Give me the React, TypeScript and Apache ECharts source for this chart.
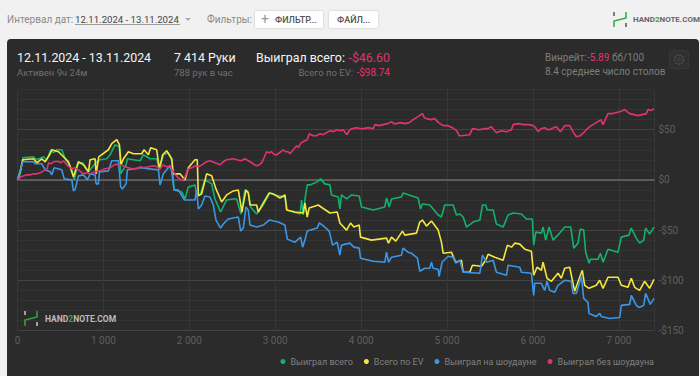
import React, { useEffect, useRef } from "react";
import * as echarts from "echarts";

const FONT = "Roboto";
const seriesNames = ["Выиграл всего", "Всего по EV", "Выиграл на шоудауне", "Выиграл без шоудауна"];
const seriesColors = ["#12b26c", "#f4e73c", "#3a97e6", "#e1336f"];

const wonTotal = [[0,0],[31,6],[62,22],[186,23],[225,20],[302,23],[341,20],[388,30],[419,27],[457,30],[516,30],[554,21],[632,11],[659,0],[709,17],[760,17],[826,8],[922,18],[961,20],[1039,21],[1078,25],[1136,35],[1186,33],[1201,6],[1264,15],[1279,21],[1349,20],[1426,19],[1465,25],[1543,21],[1620,21],[1651,10],[1698,25],[1756,27],[1795,20],[1822,-10],[1911,-12],[1950,-19],[1988,-7],[2066,-5],[2085,-14],[2124,-15],[2182,0],[2260,-4],[2298,-19],[2364,-32],[2434,-20],[2512,-19],[2551,-19],[2601,-34],[2647,-10],[2686,-12],[2713,-27],[2783,-34],[2861,-25],[2938,-13],[2996,-15],[3113,-17],[3140,-30],[3248,-33],[3290,-34],[3306,-20],[3326,-35],[3345,-20],[3372,-5],[3403,-5],[3488,-2],[3527,1],[3578,-4],[3636,-5],[3655,-15],[3733,-17],[3752,-29],[3771,-15],[3830,-19],[3888,-15],[3977,-16],[4004,-27],[4140,-30],[4275,-27],[4295,-18],[4326,-27],[4353,-19],[4469,-17],[4488,-13],[4663,-18],[4690,-29],[4713,-24],[4799,-25],[4896,-35],[4934,-37],[4973,-25],[5070,-25],[5109,-35],[5148,-34],[5187,-37],[5226,-47],[5303,-42],[5381,-40],[5412,-25],[5450,-25],[5466,-30],[5536,-30],[5574,-44],[5652,-47],[5710,-35],[5768,-33],[5865,-34],[5923,-39],[5989,-39],[5993,-40],[6008,-65],[6032,-52],[6098,-53],[6117,-47],[6148,-60],[6187,-47],[6233,-60],[6311,-53],[6369,-47],[6439,-47],[6474,-68],[6524,-63],[6551,-49],[6590,-50],[6613,-72],[6652,-83],[6667,-79],[6757,-79],[6784,-73],[6815,-82],[6873,-69],[6989,-72],[7028,-57],[7117,-55],[7144,-48],[7202,-58],[7241,-63],[7288,-60],[7311,-48],[7357,-54],[7408,-47]];

const totalEv = [[0,0],[31,8],[62,20],[186,21],[225,17],[283,21],[322,18],[380,26],[399,30],[477,28],[535,23],[593,18],[651,3],[709,18],[767,15],[826,8],[845,20],[903,21],[915,6],[946,23],[1058,30],[1097,36],[1155,40],[1186,35],[1205,15],[1233,21],[1291,28],[1349,26],[1446,26],[1473,30],[1523,25],[1550,32],[1620,30],[1651,11],[1690,25],[1736,29],[1795,21],[1814,6],[1891,6],[1950,0],[1988,12],[2066,20],[2092,20],[2105,-16],[2143,-14],[2201,6],[2260,4],[2310,-9],[2376,-22],[2434,-15],[2512,-11],[2570,-10],[2589,-20],[2612,-32],[2659,-10],[2686,-13],[2706,-25],[2783,-25],[2802,-32],[2861,-23],[2930,-13],[2977,-14],[3054,-18],[3113,-15],[3132,-30],[3229,-32],[3326,-33],[3345,-23],[3372,-37],[3395,-28],[3500,-25],[3550,-28],[3636,-33],[3721,-32],[3752,-43],[3830,-50],[3876,-43],[3915,-47],[3977,-45],[3992,-57],[4120,-60],[4295,-58],[4318,-63],[4353,-57],[4403,-61],[4481,-51],[4508,-55],[4644,-53],[4682,-42],[4713,-40],[4760,-46],[4818,-41],[4896,-50],[4934,-62],[4954,-73],[5050,-72],[5101,-82],[5167,-80],[5187,-92],[5264,-92],[5295,-85],[5400,-86],[5450,-80],[5477,-74],[5555,-77],[5652,-80],[5702,-65],[5749,-67],[5788,-63],[5846,-64],[5904,-69],[5981,-71],[6008,-95],[6047,-87],[6098,-90],[6117,-82],[6163,-98],[6214,-101],[6291,-93],[6330,-98],[6369,-88],[6427,-87],[6466,-103],[6485,-111],[6543,-97],[6574,-90],[6601,-105],[6652,-108],[6737,-105],[6776,-100],[6815,-108],[6873,-97],[6989,-97],[7028,-105],[7105,-107],[7144,-98],[7183,-107],[7241,-110],[7299,-101],[7357,-108],[7408,-99]];

const wonShowdown = [[0,0],[31,9],[62,18],[186,18],[205,16],[283,16],[322,10],[380,8],[399,5],[426,12],[516,10],[543,1],[632,0],[651,-11],[670,-10],[709,4],[767,5],[814,0],[845,6],[903,5],[915,-4],[942,-4],[954,8],[1058,9],[1097,19],[1174,19],[1201,-7],[1221,-9],[1264,-4],[1279,10],[1426,12],[1640,10],[1659,-5],[1698,6],[1775,14],[1795,8],[1822,-10],[1872,-10],[1941,-20],[2066,-20],[2085,-10],[2105,-29],[2143,-25],[2182,-16],[2240,-17],[2279,-25],[2310,-40],[2364,-48],[2395,-44],[2453,-39],[2570,-37],[2597,-51],[2628,-48],[2659,-27],[2686,-30],[2706,-45],[2783,-47],[2861,-45],[2930,-40],[3035,-42],[3113,-45],[3140,-59],[3229,-62],[3295,-57],[3318,-67],[3345,-60],[3372,-51],[3488,-48],[3512,-43],[3550,-45],[3628,-51],[3667,-65],[3721,-62],[3752,-75],[3771,-65],[3868,-63],[3915,-67],[3977,-68],[3992,-78],[4140,-81],[4275,-82],[4295,-72],[4318,-82],[4353,-77],[4469,-75],[4488,-68],[4545,-72],[4585,-73],[4655,-78],[4682,-91],[4740,-88],[4799,-88],[4818,-82],[4837,-88],[4896,-89],[4907,-96],[4942,-82],[5012,-76],[5070,-77],[5101,-83],[5148,-80],[5187,-92],[5381,-93],[5412,-75],[5458,-82],[5536,-80],[5574,-92],[5691,-95],[5710,-85],[5846,-87],[5865,-92],[5981,-93],[6008,-115],[6020,-103],[6098,-103],[6136,-110],[6163,-101],[6194,-110],[6252,-112],[6291,-105],[6369,-100],[6446,-101],[6466,-113],[6505,-113],[6563,-96],[6590,-118],[6640,-122],[6652,-133],[6737,-136],[6776,-133],[6795,-136],[6892,-138],[7009,-137],[7028,-125],[7125,-124],[7144,-115],[7202,-125],[7233,-127],[7288,-125],[7311,-113],[7365,-124],[7408,-118]];

const wonNoShowdown = [[0,0],[39,3],[75,4],[109,5],[150,5],[186,6],[225,6],[264,7],[322,10],[345,11],[360,17],[390,16],[419,18],[477,18.5],[500,17],[535,19],[574,15],[600,13],[632,11],[670,12],[709,10],[767,6],[805,7],[845,6],[900,8],[961,9],[1020,11],[1078,12],[1110,14],[1147,16],[1180,14],[1213,15],[1250,13],[1291,12],[1340,11],[1388,11],[1430,13],[1465,12],[1525,13],[1581,14],[1625,13],[1659,11],[1698,15],[1735,13],[1775,14],[1814,8],[1840,5],[1872,2],[1922,-1],[1950,3],[1988,11],[2030,12],[2066,14],[2110,13],[2163,16],[2200,18],[2240,19],[2300,17],[2357,15],[2395,18],[2434,20],[2512,21],[2551,20],[2600,19],[2647,21],[2706,18],[2783,14],[2815,15],[2841,17],[2870,22],[2899,28],[2930,27],[2957,28],[2990,25],[3016,25],[3050,27],[3093,30],[3120,28],[3150,28],[3171,26],[3210,30],[3248,34],[3270,32],[3300,37],[3326,38],[3372,40],[3396,46],[3440,44],[3481,44],[3520,46],[3560,45],[3597,47],[3640,49],[3680,48],[3713,50],[3760,49],[3791,50],[3815,47],[3837,45],[3860,49],[3888,51],[3950,52],[4000,51],[4024,51],[4090,52],[4140,51],[4159,55],[4210,54],[4256,55],[4310,56],[4353,58],[4380,56],[4411,56],[4460,57],[4508,56],[4560,57],[4605,60],[4660,63],[4713,66],[4735,62],[4760,61],[4810,60],[4857,61],[4900,57],[4954,54],[5010,54],[5062,52],[5110,49],[5140,44],[5167,44],[5264,45],[5295,51],[5370,50],[5430,51],[5477,51],[5516,53],[5545,50],[5574,47],[5633,49],[5690,48],[5749,50],[5768,55],[5830,56],[5890,55],[5950,55],[6001,54],[6030,52],[6059,48],[6090,51],[6136,52],[6170,50],[6194,50],[6240,52],[6272,53],[6300,50],[6319,48],[6369,54],[6427,54],[6465,48],[6504,43],[6551,44],[6590,47],[6621,50],[6660,53],[6698,55],[6757,58],[6790,60],[6815,55],[6873,66],[6930,66],[6970,67],[7020,68],[7067,70],[7125,66],[7175,65],[7222,64],[7270,65],[7319,66],[7338,70],[7375,69],[7408,71]];

const seriesData = [wonTotal, totalEv, wonShowdown, wonNoShowdown];

const txt = (x: number, y: number, text: string, size: number, fill: string, extra: any = {}) => ({
  type: "text", x, y, z: 5,
  style: { text, fontSize: size, fill, fontFamily: FONT, verticalAlign: "middle", ...extra },
});

const logo = (x: number, y: number, bars: string, size: number, textColor: string, textX: number) => [
  { type: "line", z: 5, shape: { x1: x + 1, y1: y, x2: x + 1, y2: y + 4 }, style: { stroke: bars, lineWidth: 1.5 } },
  { type: "line", z: 5, shape: { x1: x + 13, y1: y + 11, x2: x + 13, y2: y + 15 }, style: { stroke: bars, lineWidth: 1.5 } },
  { type: "polyline", z: 5, shape: { points: [[x + 1, y + 15], [x + 1, y + 9], [x + 13, y + 6], [x + 13, y]] }, style: { stroke: "#2fa83f", lineWidth: 1.5, fill: "none" } },
  {
    type: "text", z: 5, x: textX, y: y + 7.5,
    style: {
      text: "{a|HAND}{b|2}{a|NOTE.COM}", verticalAlign: "middle",
      rich: {
        a: { fontSize: size, fontWeight: "bold", fill: textColor, fontFamily: FONT },
        b: { fontSize: size, fontWeight: "bold", fill: "#2fa83f", fontFamily: FONT },
      },
    },
  },
];

export default function App() {
  const ref = useRef<HTMLDivElement>(null);
  useEffect(() => {
    document.body.style.margin = "0";
    const chart = echarts.init(ref.current!, null, { renderer: "svg" });
    const pink = "#e1336f";
    chart.setOption({
      animation: false,
      backgroundColor: "#f1f1f1",
      textStyle: { fontFamily: FONT },
      grid: { left: 17.5, right: 45.5, top: 89.5, bottom: 45.5, containLabel: false },
      xAxis: {
        type: "value", min: 0, max: 7414, interval: 1000,
        axisLine: { show: false }, axisTick: { show: false },
        splitLine: { show: true, lineStyle: { color: "#373737", width: 1 } },
        axisLabel: {
          color: "#5f5f5f", fontSize: 10, margin: 5, hideOverlap: false,
          formatter: (v: number) => (v % 1000 === 0 ? (v >= 1000 ? `${Math.floor(v / 1000)} 000` : `${v}`) : ""),
        },
      },
      yAxis: {
        type: "value", min: -150, max: 90, interval: 10, position: "right",
        axisLine: { show: false }, axisTick: { show: false },
        splitLine: { show: true, lineStyle: { color: ["#444444", "#333333", "#333333", "#333333", "#333333"], width: 1 } },
        axisLabel: {
          color: "#5f5f5f", fontSize: 10, margin: 4,
          formatter: (v: number) => (v % 50 === 0 ? (v < 0 ? `-$${-v}` : `$${v}`) : ""),
        },
      },
      legend: {
        show: true, right: 41, top: 352, icon: "circle", itemWidth: 5, itemHeight: 5, itemGap: 11,
        textStyle: { color: "#808080", fontSize: 9, fontFamily: FONT },
        data: seriesNames,
      },
      series: seriesNames.map((name, i) => ({
        name, type: "line", data: seriesData[i], showSymbol: false, symbol: "none",
        lineStyle: { color: seriesColors[i], width: 1.6 }, itemStyle: { color: seriesColors[i] },
        z: 3 + i,
        markLine: i === 0 ? {
          silent: true, symbol: "none", label: { show: false }, z: 2,
          lineStyle: { color: "#686868", width: 1.6, type: "solid" }, data: [{ yAxis: 0 }],
        } : undefined,
      })),
      graphic: {
        elements: [
          { type: "rect", z: -10, shape: { x: 7, y: 39, width: 692, height: 345, r: 4 }, style: { fill: "#2b2b2b" } },
          txt(7, 19, "Интервал дат:", 10, "#8a8a8a"),
          txt(75, 19, "12.11.2024 - 13.11.2024", 9.6, "#444444"),
          { type: "line", z: 5, shape: { x1: 75, y1: 24.5, x2: 180, y2: 24.5 }, style: { stroke: "#9a9a9a", lineWidth: 1 } },
          { type: "polygon", z: 5, shape: { points: [[185, 18], [191, 18], [188, 21]] }, style: { fill: "#aaaaaa" } },
          txt(207, 19, "Фильтры:", 10, "#8a8a8a"),
          { type: "rect", z: 4, shape: { x: 255, y: 11, width: 68, height: 17, r: 2 }, style: { fill: "#ffffff", shadowBlur: 2, shadowColor: "rgba(0,0,0,0.2)" } },
          txt(261, 19, "+", 14, "#999999"),
          txt(275, 19.5, "ФИЛЬТР...", 9, "#555555", { fontWeight: 500 }),
          { type: "rect", z: 4, shape: { x: 329, y: 11, width: 49, height: 17, r: 2 }, style: { fill: "#ffffff", shadowBlur: 2, shadowColor: "rgba(0,0,0,0.2)" } },
          txt(337, 19.5, "ФАЙЛ...", 9, "#555555", { fontWeight: 500 }),
          ...logo(613, 12, "#555555", 8, "#666666", 633),

          txt(17, 57, "12.11.2024 - 13.11.2024", 12.4, "#f5f5f5"),
          txt(17, 72, "Активен 9ч 24м", 9.5, "#707070"),
          txt(174, 57, "7 414 Руки", 12.4, "#f5f5f5"),
          txt(174, 72, "788 рук в час", 9.5, "#707070"),
          txt(256, 57, "Выиграл всего:", 12.4, "#f5f5f5"),
          txt(390, 57, "-$46.60", 12.4, pink, { align: "right" }),
          txt(353, 72, "Всего по EV:", 9.5, "#707070", { align: "right" }),
          txt(390, 72, "-$98.74", 10, pink, { align: "right" }),
          txt(545, 57, "Винрейт:", 10, "#7d7d7d"),
          txt(587, 57, "-5.89", 10, pink),
          txt(612, 57, "бб/100", 10, "#7d7d7d"),
          txt(545, 71, "8.4 среднее число столов", 10, "#7d7d7d"),
          { type: "rect", z: 4, shape: { x: 669.5, y: 50.5, width: 19, height: 18, r: 2 }, style: { fill: "#303030", stroke: "#383838", lineWidth: 1 } },
          { type: "circle", z: 5, shape: { cx: 679, cy: 59.5, r: 4.5 }, style: { fill: "none", stroke: "#4d4d4d", lineWidth: 1.5, lineDash: [2, 1] } },
          { type: "circle", z: 5, shape: { cx: 679, cy: 59.5, r: 1.5 }, style: { fill: "none", stroke: "#4d4d4d", lineWidth: 1 } },

          ...logo(24, 311, "#c8c8c8", 8.5, "#bbbbbb", 45),
        ],
      },
    });
    return () => chart.dispose();
  }, []);
  return <div ref={ref} style={{ width: 700, height: 376 }} />;
}
